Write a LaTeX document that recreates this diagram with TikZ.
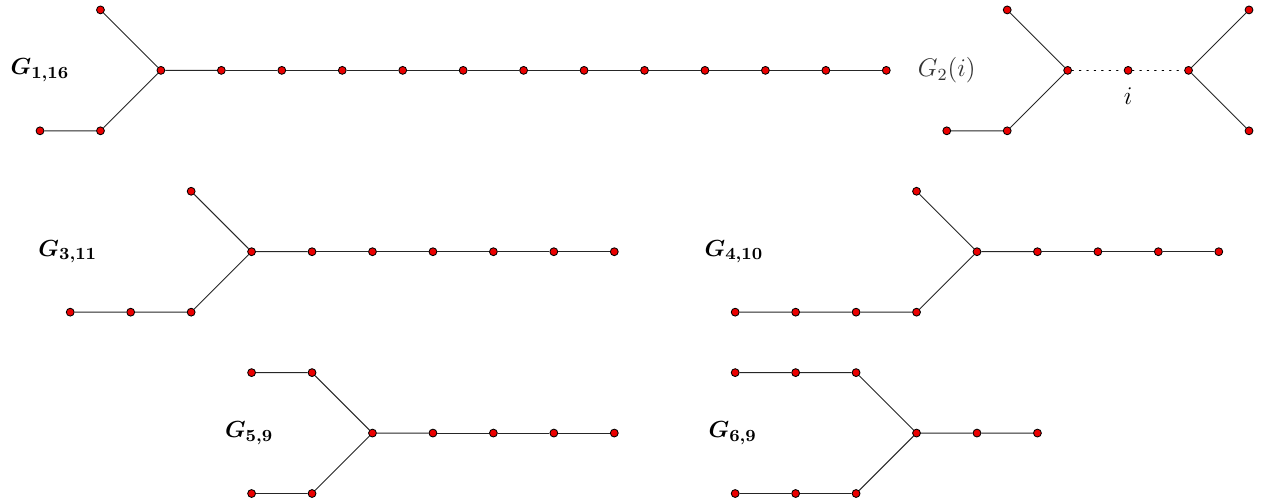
\documentclass[tikz,border=0pt]{standalone}
\usepackage{amsmath,amsfonts,amssymb}
\usepackage{xcolor}
\usepackage{tikz}
\usetikzlibrary{positioning}
\definecolor{vertexred}{RGB}{235,0,0}
\tikzstyle{vertex} = [circle, draw=black, fill=vertexred, inner sep=0pt, minimum size=1.3mm, line width=0.4pt]
\tikzstyle{edge} = [draw=black!85, line width=0.45pt]
\tikzstyle{dotedge} = [draw=black, line width=0.6pt, dash pattern=on 0.6pt off 2.9pt, line cap=round]
\tikzstyle{grname} = [inner sep=0pt, font=\fontsize{11}{13}\selectfont]

\begin{document}
\begin{tikzpicture}
    \useasboundingbox (-0.662,-0.124) rectangle (20.215,8.164);
    % G_{1,16}
    \node [grname] (lab1) at (0,7) {$\boldsymbol{G_{1,16}}$};
    \node [vertex] (g1c) at (2,7) {};
    \node [vertex] (g1u) at (1,8) {};
    \node [vertex] (g1l1) at (1,6) {};
    \node [vertex] (g1l2) at (0,6) {};
    \foreach \k in {1,...,12} \node [vertex] (g1r\k) at (2+\k,7) {};
    \draw [edge] (g1u) -- (g1c) -- (g1r1);
    \draw [edge] (g1l2) -- (g1l1) -- (g1c);
    \foreach \k [count=\j from 2] in {1,...,11} \draw [edge] (g1r\k) -- (g1r\j);
    % G_2(i)
    \node [grname, black!80, font=\large] (lab2) at (15,7) {$G_2(i)$};
    \node [vertex] (g2a) at (17,7) {};
    \node [vertex] (g2au) at (16,8) {};
    \node [vertex] (g2al1) at (16,6) {};
    \node [vertex] (g2al2) at (15,6) {};
    \node [vertex] (g2m) at (18,7) {};
    \node [below=0.1cm of g2m, font=\large] (g2lab) {$i$};
    \node [vertex] (g2b) at (19,7) {};
    \node [vertex] (g2bu) at (20,8) {};
    \node [vertex] (g2bl) at (20,6) {};
    \draw [edge] (g2au) -- (g2a);
    \draw [edge] (g2al2) -- (g2al1) -- (g2a);
    \draw [edge] (g2bu) -- (g2b) -- (g2bl);
    \draw [dotedge] (g2a) -- (g2m);
    \draw [dotedge] (g2m) -- (g2b);
    % G_{3,11}
    \node [grname] (lab3) at (0.46,4) {$\boldsymbol{G_{3,11}}$};
    \node [vertex] (g3c) at (3.5,4) {};
    \node [vertex] (g3u) at (2.5,5) {};
    \foreach \k in {1,2,3} \node [vertex] (g3l\k) at (3.5-\k,3) {};
    \foreach \k in {1,...,6} \node [vertex] (g3r\k) at (3.5+\k,4) {};
    \draw [edge] (g3u) -- (g3c) -- (g3r1);
    \draw [edge] (g3l3) -- (g3l2) -- (g3l1) -- (g3c);
    \foreach \k [count=\j from 2] in {1,...,5} \draw [edge] (g3r\k) -- (g3r\j);
    % G_{4,10}
    \node [grname] (lab4) at (11.48,4) {$\boldsymbol{G_{4,10}}$};
    \node [vertex] (g4c) at (15.5,4) {};
    \node [vertex] (g4u) at (14.5,5) {};
    \foreach \k in {1,...,4} \node [vertex] (g4l\k) at (15.5-\k,3) {};
    \foreach \k in {1,...,4} \node [vertex] (g4r\k) at (15.5+\k,4) {};
    \draw [edge] (g4u) -- (g4c) -- (g4r1);
    \draw [edge] (g4l4) -- (g4l3) -- (g4l2) -- (g4l1) -- (g4c);
    \foreach \k [count=\j from 2] in {1,...,3} \draw [edge] (g4r\k) -- (g4r\j);
    % G_{5,9}
    \node [grname] (lab5) at (3.46,1) {$\boldsymbol{G_{5,9}}$};
    \node [vertex] (g5c) at (5.5,1) {};
    \foreach \k in {1,2} {
        \node [vertex] (g5u\k) at (5.5-\k,2) {};
        \node [vertex] (g5l\k) at (5.5-\k,0) {};
    }
    \foreach \k in {1,...,4} \node [vertex] (g5r\k) at (5.5+\k,1) {};
    \draw [edge] (g5u2) -- (g5u1) -- (g5c) -- (g5r1);
    \draw [edge] (g5l2) -- (g5l1) -- (g5c);
    \foreach \k [count=\j from 2] in {1,...,3} \draw [edge] (g5r\k) -- (g5r\j);
    % G_{6,9}
    \node [grname] (lab6) at (11.46,1) {$\boldsymbol{G_{6,9}}$};
    \node [vertex] (g6c) at (14.5,1) {};
    \foreach \k in {1,2,3} {
        \node [vertex] (g6u\k) at (14.5-\k,2) {};
        \node [vertex] (g6l\k) at (14.5-\k,0) {};
    }
    \foreach \k in {1,2} \node [vertex] (g6r\k) at (14.5+\k,1) {};
    \draw [edge] (g6u3) -- (g6u2) -- (g6u1) -- (g6c) -- (g6r1) -- (g6r2);
    \draw [edge] (g6l3) -- (g6l2) -- (g6l1) -- (g6c);
\end{tikzpicture}
\end{document}
